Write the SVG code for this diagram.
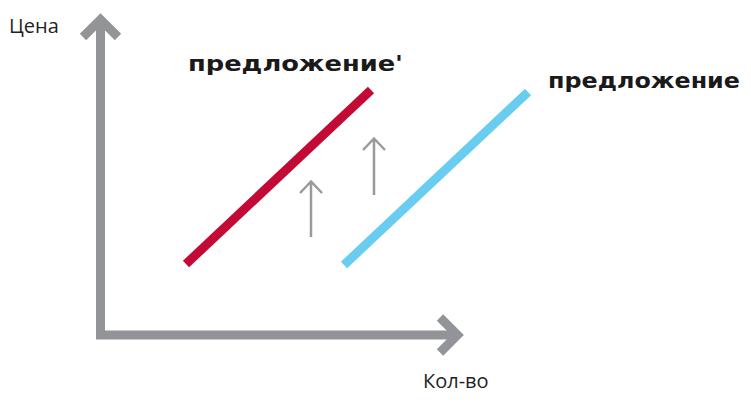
<svg xmlns="http://www.w3.org/2000/svg" width="751" height="404" viewBox="0 0 751 404">
<style>
.axis{stroke:#929497;stroke-width:9;fill:none}
.small{stroke:#9a9a9e;stroke-width:2.5;fill:none}
.lbl{font-family:"Open Sans","Noto Sans",sans-serif;font-size:20px;fill:#231f20}
.hand{font-family:"DejaVu Sans",sans-serif;font-weight:bold;font-size:21px;fill:#1a1a1a}
</style>
<rect width="751" height="404" fill="#fff"/>
<g id="axes">
<path class="axis" d="M100.5 20 V335 H458"/>
<path class="axis" d="M83 37 L100.5 19.5 L118 37"/>
<path class="axis" d="M440 317.5 L457.5 335 L440 352.5"/>
</g>
<g id="supply-new">
<line x1="186" y1="264" x2="371" y2="90" stroke="#c20a34" stroke-width="9"/>
<text class="hand" x="188" y="71" textLength="215" lengthAdjust="spacingAndGlyphs">предложение'</text>
</g>
<g id="supply">
<line x1="344" y1="265" x2="528" y2="92" stroke="#68cdf0" stroke-width="9"/>
<text class="hand" x="548" y="88" textLength="192" lengthAdjust="spacingAndGlyphs">предложение</text>
</g>
<g id="connectors">
<path class="small" d="M311 237 V181 M300 193 L311 181.5 L322 193"/>
<path class="small" d="M374 195 V138 M363 150 L374 138.5 L385 150"/>
</g>
<g id="labels">
<text class="lbl" x="9" y="33">Цена</text>
<text class="lbl" x="423" y="388">Кол-во</text>
</g>
</svg>
